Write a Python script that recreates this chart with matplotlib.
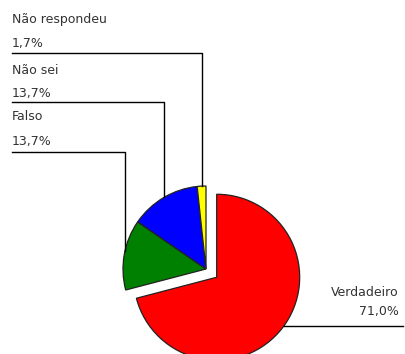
import numpy as np
import matplotlib
matplotlib.use("Agg")
import matplotlib.pyplot as plt

# Respostas (sentido horário a partir do topo)
labels = ["Verdadeiro", "Falso", "Não sei", "Não respondeu"]
values = [71.0, 13.7, 13.7, 1.7]
pct_text = ["71,0%", "13,7%", "13,7%", "1,7%"]
colors = ["#ff0000", "#008000", "#0000ff", "#ffff00"]

W, H = 406, 354
CX, CY, R = 206, 269, 83      # centro do pie (pixels, y para baixo)
OFFSET = 13.5                 # deslocamento da fatia destacada, em pixels

fig = plt.figure(figsize=(W / 100, H / 100), dpi=100)
fig.patch.set_facecolor("white")
ax = fig.add_axes([0, 0, 1, 1])

# explode do matplotlib é em unidades de dados quando há center/radius
ax.pie(values, colors=colors, startangle=90, counterclock=False,
       center=(CX, H - CY), radius=R,
       explode=[OFFSET, 0, 0, 0],
       wedgeprops=dict(edgecolor="#222222", linewidth=0.9),
       frame=False)
ax.set_xlim(0, W)
ax.set_ylim(0, H)
ax.set_aspect("equal")
ax.axis("off")

txt = dict(fontsize=9, color="#333333", family="DejaVu Sans")
line = dict(color="black", linewidth=1.0)


def arc_y(x, cx, cy):
    # ponto superior da circunferência para um dado x (coords de imagem)
    return cy - np.sqrt(R ** 2 - (x - cx) ** 2)


# rótulos à esquerda: (índice, y do nome, y do valor, y da linha, x da vertical)
left = [(3, 19, 44, 53, 202), (2, 70, 93, 102, 164), (1, 117, 142, 152, 125)]
for i, y_name, y_val, y_line, x_v in left:
    ax.text(12, H - y_name, labels[i], ha="left", va="center", **txt)
    ax.text(12, H - y_val, pct_text[i], ha="left", va="center", **txt)
    y_end = arc_y(x_v, CX, CY)
    ax.plot([12, x_v, x_v], [H - y_line, H - y_line, H - y_end], **line)

# rótulo do Verdadeiro (fatia destacada)
mid = np.deg2rad(90 - values[0] / 100 * 360 / 2)
rcx = CX + OFFSET * np.cos(mid)
rcy = CY - OFFSET * np.sin(mid)
y_line = 326
x_start = rcx + np.sqrt(R ** 2 - (y_line - rcy) ** 2)
ax.text(399, H - 292, labels[0], ha="right", va="center", **txt)
ax.text(399, H - 312, pct_text[0], ha="right", va="center", **txt)
ax.plot([x_start, 403], [H - y_line, H - y_line], **line)

fig.savefig("out.png", dpi=100, facecolor=fig.get_facecolor())
